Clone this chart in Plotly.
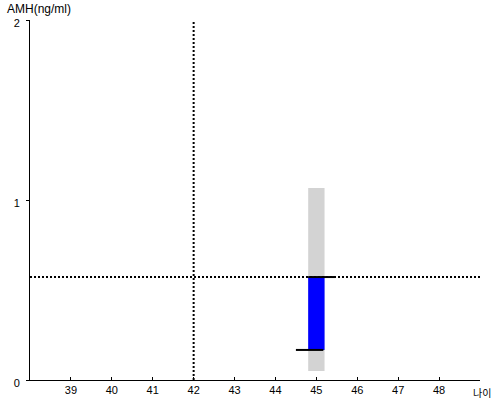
import plotly.graph_objects as go

# data
ages = [45]
range_low = [0.05]
range_high = [1.067]
bar_low = [0.167]
bar_high = [0.572]
ref_age = 42
ref_amh = 0.572
x_ticks = [39, 40, 41, 42, 43, 44, 45, 46, 47, 48]
y_ticks = [0, 1, 2]

fig = go.Figure()
fig.add_trace(go.Bar(x=ages, y=[h - l for h, l in zip(range_high, range_low)], base=range_low,
                     width=0.4, marker=dict(color="#d3d3d3", line=dict(width=0)), hoverinfo="skip"))
fig.add_trace(go.Bar(x=ages, y=[h - l for h, l in zip(bar_high, bar_low)], base=bar_low,
                     width=0.4, marker=dict(color="#0000ff", line=dict(width=0)), hoverinfo="skip"))
# reference dotted lines
fig.add_trace(go.Scatter(x=[38, 49], y=[ref_amh, ref_amh], mode="lines",
                         line=dict(color="black", width=2, dash="2px,2px")))
fig.add_trace(go.Scatter(x=[ref_age, ref_age], y=[0, 2], mode="lines",
                         line=dict(color="black", width=2, dash="2px,2px")))
# tick lines on bar
fig.add_trace(go.Scatter(x=[ages[0] - 0.2, ages[0] + 0.47], y=[bar_high[0], bar_high[0]], mode="lines",
                         line=dict(color="black", width=2)))
fig.add_trace(go.Scatter(x=[ages[0] - 0.5, ages[0] + 0.17], y=[bar_low[0], bar_low[0]], mode="lines",
                         line=dict(color="black", width=2)))

fig.update_layout(
    width=500, height=400, showlegend=False,
    margin=dict(l=30, r=20, t=20, b=20, autoexpand=False),
    plot_bgcolor="white", paper_bgcolor="white",
    font=dict(family="Liberation Sans, Arial, sans-serif", size=11, color="black"),
    barmode="overlay",
    xaxis=dict(range=[38, 49], tickvals=x_ticks, showgrid=False, zeroline=False,
               showline=True, linecolor="black", linewidth=1, ticks="inside",
               ticklen=3, tickcolor="black", automargin=False),
    yaxis=dict(range=[0, 2], tickvals=y_ticks, showgrid=False, zeroline=False,
               showline=True, linecolor="black", linewidth=1, ticks="outside",
               ticklen=3, tickcolor="black", automargin=False, ticklabelstandoff=4,
               ticklabelshift=3),
    annotations=[
        dict(text="AMH(ng/ml)", xref="paper", yref="paper", x=-0.056, y=1.0, yshift=11,
             xanchor="left", yanchor="middle", showarrow=False, font=dict(size=12)),
        dict(text="나이", xref="paper", yref="paper", x=1.0, y=0, yshift=-12, xshift=2,
             xanchor="center", yanchor="middle", showarrow=False,
             font=dict(size=10, family="Noto Sans CJK KR")),
    ],
)
fig.write_html("out.html", config={"displayModeBar": False},
               post_script="document.body.style.margin='0px';")
